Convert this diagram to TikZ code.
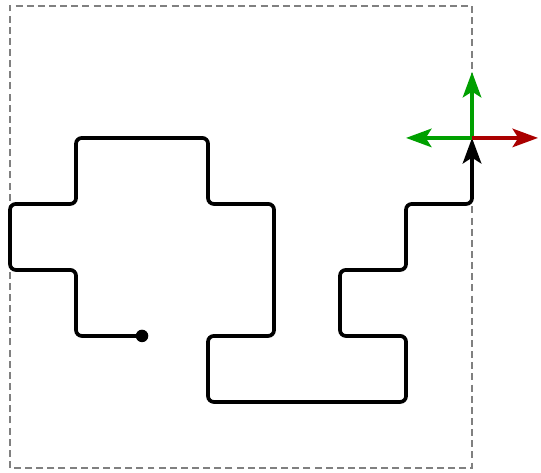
\documentclass[tikz,border=0pt]{standalone}
\usepackage[dvipsnames]{xcolor}
\usetikzlibrary{arrows.meta}

\definecolor{arrgreen}{RGB}{0,160,0}
\definecolor{arrred}{RGB}{170,0,0}

\begin{document}
\begin{tikzpicture}[>={Stealth[length=11pt,width=8pt,inset=2.5pt]},x=1cm,y=1cm,
    walk/.style={line width=1.6pt,rounded corners=2.5pt},
    frame/.style={line width=1.2pt,dash pattern=on 3pt off 1.8pt,gray},
    axis/.style={line width=1.4pt,->}]

                \useasboundingbox (-0.152,-0.076) rectangle (8.045,7.09);

                \draw[frame] (0,0) rectangle (7,7);

                \coordinate (start) at (2,2);
                \coordinate (head) at (7,5);
                \coordinate (up) at (7,6);
                \coordinate (left) at (6,5);
                \coordinate (right) at (8,5);

                \draw[walk,->] (start) -- (1,2) -- (1,3) -- (0,3) -- (0,4) -- (1,4)
                -- (1,5) -- (3,5) -- (3,4) -- (4,4) -- (4,2) -- (3,2) -- (3,1)
                -- (6,1) -- (6,2) -- (5,2) -- (5,3) -- (6,3) -- (6,4) -- (7,4)
                -- (head);
                \fill (start) circle (2.7pt);

                \draw[axis,arrgreen] (head) -- (up);
                \draw[axis,arrgreen] (head) -- (left);
                \draw[axis,arrred] (head) -- (right);
            \end{tikzpicture}
\end{document}
